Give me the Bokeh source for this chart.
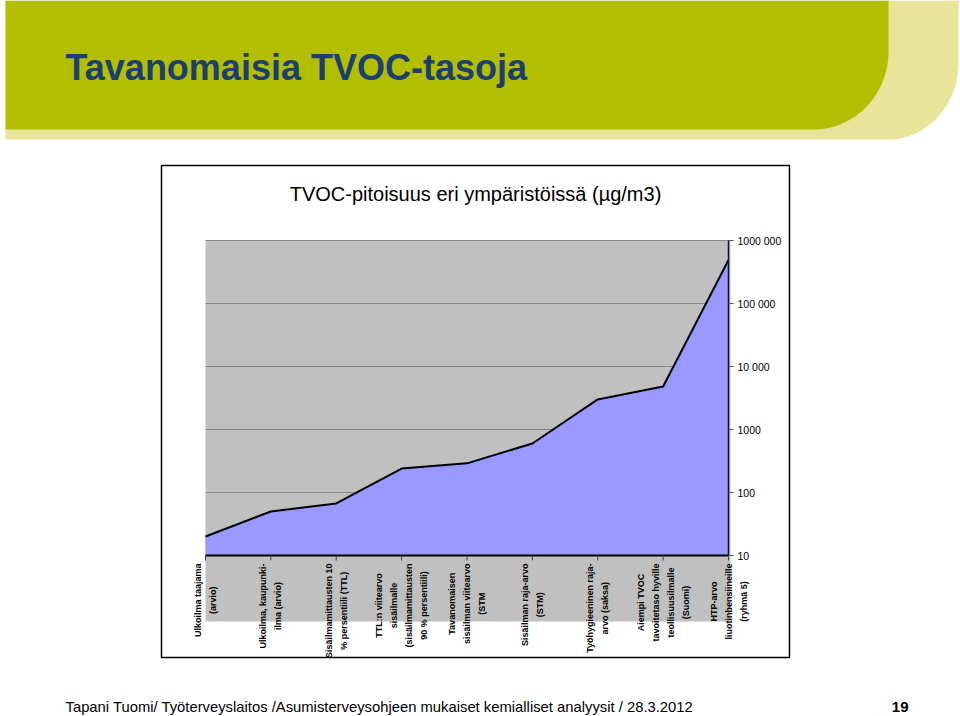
import math
import numpy as np
from bokeh.plotting import figure
from bokeh.models import Range1d, LogScale
from bokeh.embed import file_html
from bokeh.resources import INLINE
from bokeh.core.properties import value

# ---------------- data ----------------
slide_title = "Tavanomaisia TVOC-tasoja"
chart_title = "TVOC-pitoisuus eri ympäristöissä (µg/m3)"
footer_text = "Tapani Tuomi/ Työterveyslaitos /Asumisterveysohjeen mukaiset kemialliset analyysit / 28.3.2012"
page_number = "19"

categories = [
    "Ulkoilma taajama\n(arvio)",
    "Ulkoilma, kaupunki-\nilma (arvio)",
    "Sisäilmamittausten 10\n% persentiili (TTL)",
    "TTL:n viitearvo\nsisäilmalle\n(sisäilmamittausten\n90 % persentiili)",
    "Tavanomaisen\nsisäilman viitearvo\n(STM",
    "Sisäilman raja-arvo\n(STM)",
    "Työhygieeninen raja-\narvo (saksa)",
    "Aiempi TVOC\ntavoitetaso hyville\nteollisuusilmalle\n(Suomi)",
    "HTP-arvo\nliuotinbensiineille\n(ryhmä 5)",
]
tvoc_ugm3 = [20, 50, 67, 240, 290, 600, 3000, 4800, 490000]
y_ticks = [10, 100, 1000, 10000, 100000, 1000000]
y_tick_labels = ["10", "100", "1000", "10 000", "100 000", "1000 000"]

# ---------------- layout constants (pixels) ----------------
W, H = 960, 716
PX0, PX1 = 205, 728          # first / last category column
PY_MIN, PY_MAX = 555, 240    # rows of lowest / highest y tick
FONT = value("Liberation Sans")

n = len(categories)
idx = list(range(n))
xs = (PX1 - PX0) / (n - 1)
lmin, lmax = math.log10(y_ticks[0]), math.log10(y_ticks[-1])
dec = (PY_MIN - PY_MAX) / (lmax - lmin)
log_lo = 10 ** (lmin - (H - PY_MIN) / dec)
log_hi = 10 ** (lmin + PY_MIN / dec)

p = figure(width=W, height=H, x_range=Range1d(0, W), y_range=Range1d(H, 0),
           x_axis_location=None, y_axis_location=None, output_backend="svg",
           toolbar_location=None, min_border=0)
p.min_border_left = p.min_border_right = p.min_border_top = p.min_border_bottom = 0
p.xgrid.visible = False
p.ygrid.visible = False
p.grid.grid_line_color = None
p.outline_line_color = None
p.background_fill_color = "white"
p.border_fill_color = "white"
p.extra_x_ranges = {"cat": Range1d(-PX0 / xs, (n - 1) + (W - PX1) / xs)}
p.extra_y_ranges = {"log": Range1d(log_lo, log_hi)}
p.extra_y_scales = {"log": LogScale()}


def rounded_box(x0, x1, y0, y1, rx, ry):
    t = np.linspace(0, math.pi / 2, 40)
    cx, cy = x1 - rx, y1 - ry
    xs_ = [x0, x1] + list(cx + rx * np.cos(t)) + [x0]
    ys_ = [y0, y0] + list(cy + ry * np.sin(t)) + [y1]
    return xs_, ys_


# header band
lx, ly = rounded_box(5, 958, 0, 139, 70, 77)
p.patch(lx, ly, fill_color="#E8E49A", line_color=None)
gx, gy = rounded_box(5, 888, 0, 129, 75, 78)
p.patch(gx, gy, fill_color="#B4BE00", line_color=None)
p.text(x=[65], y=[67], text=[slide_title], text_font=FONT, text_font_style="bold",
       text_font_size="36px", text_color="#1A3F70", text_baseline="middle")

# chart frame
p.quad(left=[161], right=[789], top=[165], bottom=[657], fill_color="white",
       line_color="black", line_width=1.5)
p.text(x=[475], y=[193], text=[chart_title], text_font=FONT, text_font_size="20px",
       text_color="black", text_align="center", text_baseline="middle")

# plot area background
p.quad(left=[PX0], right=[PX1 + 2], top=[PY_MAX], bottom=[621],
       fill_color="#C0C0C0", line_color=None)

# gridlines
p.segment(x0=[0] * len(y_ticks), x1=[n - 1] * len(y_ticks), y0=y_ticks, y1=y_ticks,
          x_range_name="cat", y_range_name="log", line_color="#868686", line_width=1)

# area
p.varea(x=idx, y1=[y_ticks[0]] * n, y2=tvoc_ugm3, x_range_name="cat",
        y_range_name="log", fill_color="#9999FF")
p.line(x=idx, y=tvoc_ugm3, x_range_name="cat", y_range_name="log",
       line_color="black", line_width=2)

# axes lines
p.segment(x0=[0], x1=[n - 1], y0=[y_ticks[0]], y1=[y_ticks[0]], x_range_name="cat",
          y_range_name="log", line_color="black", line_width=2)
p.segment(x0=[n - 1], x1=[n - 1], y0=[y_ticks[0]], y1=[y_ticks[-1]], x_range_name="cat",
          y_range_name="log", line_color="#101030", line_width=1.5)
# right ticks
p.segment(x0=[n - 1] * len(y_ticks), x1=[n - 1 + 5 / xs] * len(y_ticks), y0=y_ticks,
          y1=y_ticks, x_range_name="cat", y_range_name="log", line_color="#555555",
          line_width=1)
# category ticks
p.segment(x0=idx, x1=idx, y0=[y_ticks[0]] * n, y1=[10 ** (lmin - 5 / dec)] * n,
          x_range_name="cat", y_range_name="log", line_color="#444444", line_width=1)

p.text(x=[n - 1] * len(y_ticks), y=y_ticks, text=y_tick_labels, x_offset=9,
       x_range_name="cat", y_range_name="log", text_font=FONT, text_font_size="10.5px",
       text_color="black", text_baseline="middle", text_align="left")

p.text(x=idx, y=[563] * n, text=categories, x_range_name="cat", angle=math.pi / 2,
       anchor="center_right", text_align="center", text_font=FONT,
       text_font_size="9px", text_font_style="bold", text_color="black",
       text_line_height=1.5)

# footer
p.text(x=[65], y=[706], text=[footer_text], text_font=FONT, text_font_size="14.8px",
       text_color="black", text_baseline="middle")
p.text(x=[908], y=[706], text=[page_number], text_font=FONT, text_font_size="15px",
       text_font_style="bold", text_color="black", text_baseline="middle",
       text_align="right")

open("out.html", "w").write(file_html(p, INLINE, title=slide_title))
